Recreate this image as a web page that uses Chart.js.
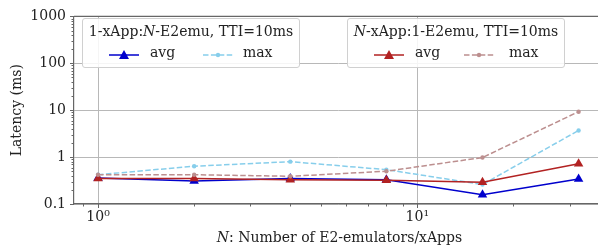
<!DOCTYPE html>
<html>
<head>
<meta charset="utf-8">
<script src="https://cdn.jsdelivr.net/npm/chart.js@4/dist/chart.umd.min.js"></script>
<style>
  html, body { margin: 0; padding: 0; background: #fff; overflow: hidden; width: 598px; height: 246px; }
  #wrap { position: absolute; left: 0; top: 0; width: 598px; height: 246px; overflow: hidden; }
  #chart { position: absolute; left: 0; top: 0; width: 608px; height: 246px; }
  .legend {
    position: absolute; top: 18px; width: 216px; height: 48px;
    background: rgba(255,255,255,0.85); border: 1px solid #d0d0d0; border-radius: 3px;
    font-family: "DejaVu Serif", serif; font-size: 14px; color: #222;
  }
  .legend .title { position: absolute; left: 0; right: 0; top: 4px; text-align: center; white-space: nowrap; }
  .legend .handle { position: absolute; top: 30px; }
  .legend .lbl { position: absolute; top: 25px; white-space: nowrap; }
  #xtitle {
    position: absolute; top: 229px; left: 74px; width: 531px; text-align: center;
    font-family: "DejaVu Serif", serif; font-size: 14px; color: #222; white-space: nowrap;
  }
</style>
</head>
<body>
<div id="wrap">
  <canvas id="chart" width="608" height="246"></canvas>
  <div class="legend" style="left:82px">
    <div class="title">1-xApp:<i>N</i>-E2emu, TTI=10ms</div>
    <svg class="handle" style="left:26px" width="30" height="12"><line x1="0" y1="6" x2="30" y2="6" stroke="#0000cd" stroke-width="1.5"/><polygon points="15,1 20,10 10,10" fill="#0000cd"/></svg>
    <span class="lbl" style="left:67px">avg</span>
    <svg class="handle" style="left:120px" width="30" height="12"><line x1="0" y1="6" x2="30" y2="6" stroke="#87ceeb" stroke-width="1.5" stroke-dasharray="5.5 2.4"/><circle cx="15" cy="6" r="2.2" fill="#87ceeb"/></svg>
    <span class="lbl" style="left:160px">max</span>
  </div>

  <div class="legend" style="left:347px">
    <div class="title"><i>N</i>-xApp:1-E2emu, TTI=10ms</div>
    <svg class="handle" style="left:26px" width="30" height="12"><line x1="0" y1="6" x2="30" y2="6" stroke="#b22222" stroke-width="1.5"/><polygon points="15,1 20,10 10,10" fill="#b22222"/></svg>
    <span class="lbl" style="left:67px">avg</span>
    <svg class="handle" style="left:116px" width="30" height="12"><line x1="0" y1="6" x2="30" y2="6" stroke="#bc8f8f" stroke-width="1.5" stroke-dasharray="5.5 2.4"/><circle cx="15" cy="6" r="2.2" fill="#bc8f8f"/></svg>
    <span class="lbl" style="left:161px">max</span>
  </div>

  <div id="xtitle"><i>N</i>: Number of E2-emulators/xApps</div>
</div>

<script>
// number of E2 emulators / xApps
const nValues = [1, 2, 4, 8, 16, 32];

// 1-xApp : N-E2emu (ms)
const oneXAppAvg = [0.36, 0.31, 0.35, 0.33, 0.157, 0.34];
const oneXAppMax = [0.42, 0.64, 0.80, 0.54, 0.26, 3.7];

// N-xApp : 1-E2emu (ms)
const nXAppAvg = [0.35, 0.35, 0.33, 0.32, 0.29, 0.72];
const nXAppMax = [0.42, 0.42, 0.39, 0.50, 0.98, 9.3];

// tick positions
const xTicks = [0.9, 1, 2, 3, 4, 5, 6, 7, 8, 9, 10, 20, 30];
const xTickLabels = { 1: "10\u2070", 10: "10\u00b9" };
const yTicks = [];
[0.1, 1, 10, 100].forEach(d => { for (let k = 1; k < 10; k++) yTicks.push(+(d * k).toPrecision(3)); });
yTicks.push(1000);
const yTickLabels = { 0.1: "0.1", 1: "1", 10: "10", 100: "100", 1000: "1000" };

const FONT = "'DejaVu Serif', serif";
const GRID = "#b8b8b8";
const SPINE = "#666";

function isMajor(v) {
  const l = Math.log10(v);
  return Math.abs(l - Math.round(l)) < 1e-6;
}

function points(arr) {
  return nValues.map((n, i) => ({ x: n, y: arr[i] }));
}

// matplotlib style axes: top spine + short minor ticks
const axesDeco = {
  id: "axesDeco",
  afterDraw(chart) {
    const { ctx, chartArea, scales } = chart;
    ctx.save();
    ctx.strokeStyle = SPINE;
    ctx.lineWidth = 1;
    scales.x.ticks.forEach(t => {
      const px = Math.round(scales.x.getPixelForValue(t.value)) + 0.5;
      const len = isMajor(t.value) ? 4 : 2.5;
      ctx.beginPath();
      ctx.moveTo(px, chartArea.bottom);
      ctx.lineTo(px, chartArea.bottom + len);
      ctx.stroke();
    });
    scales.y.ticks.forEach(t => {
      const py = Math.round(scales.y.getPixelForValue(t.value)) + 0.5;
      const len = isMajor(t.value) ? 4 : 2.5;
      ctx.beginPath();
      ctx.moveTo(chartArea.left - len, py);
      ctx.lineTo(chartArea.left, py);
      ctx.stroke();
    });
    ctx.lineWidth = 1.2;
    ctx.beginPath();
    ctx.moveTo(chartArea.left, chartArea.top);
    ctx.lineTo(chartArea.right, chartArea.top);
    ctx.stroke();
    ctx.restore();
  }
};

const lineDefaults = { borderWidth: 1.5, tension: 0, fill: false };

new Chart(document.getElementById("chart"), {
  type: "line",
  data: {
    datasets: [
      { ...lineDefaults, label: "max", data: points(nXAppMax), borderColor: "#bc8f8f", backgroundColor: "#bc8f8f",
        borderDash: [5.5, 2.4], pointStyle: "circle", pointRadius: 2.2, pointBorderWidth: 0 },
      { ...lineDefaults, label: "avg", data: points(nXAppAvg), borderColor: "#b22222", backgroundColor: "#b22222",
        pointStyle: "triangle", pointRadius: 5.5, pointBorderWidth: 0 },
      { ...lineDefaults, label: "max", data: points(oneXAppMax), borderColor: "#87ceeb", backgroundColor: "#87ceeb",
        borderDash: [5.5, 2.4], pointStyle: "circle", pointRadius: 2.2, pointBorderWidth: 0 },
      { ...lineDefaults, label: "avg", data: points(oneXAppAvg), borderColor: "#0000cd", backgroundColor: "#0000cd",
        pointStyle: "triangle", pointRadius: 5.5, pointBorderWidth: 0 }
    ]
  },
  options: {
    responsive: false,
    animation: false,
    devicePixelRatio: 1,
    layout: { padding: { top: 13, right: 3, left: 0, bottom: 0 } },
    plugins: { legend: { display: false }, tooltip: { enabled: false } },
    scales: {
      x: {
        type: "logarithmic",
        min: Math.pow(10, -0.0753),
        max: Math.pow(10, 1.58),
        afterBuildTicks: s => { s.ticks = xTicks.map(v => ({ value: v, major: isMajor(v) })); },
        afterFit: s => { s.height = 42; },
        ticks: {
          autoSkip: false, maxRotation: 0, padding: 5, color: "#222",
          font: { family: FONT, size: 14 },
          callback: v => xTickLabels[v] || ""
        },
        grid: {
          drawTicks: false,
          color: c => (c.tick && isMajor(c.tick.value)) ? GRID : "rgba(0,0,0,0)",
          lineWidth: 1
        },
        border: { display: true, color: SPINE, width: 1.2 }
      },
      y: {
        type: "logarithmic",
        min: 0.1,
        max: 1000,
        afterBuildTicks: s => { s.ticks = yTicks.map(v => ({ value: v, major: isMajor(v) })); },
        afterFit: s => { s.width = 74; },
        ticks: {
          autoSkip: false, padding: 8, color: "#222",
          font: { family: FONT, size: 14 },
          callback: v => yTickLabels[v] || ""
        },
        grid: {
          drawTicks: false,
          color: c => (c.tick && isMajor(c.tick.value)) ? GRID : "rgba(0,0,0,0)",
          lineWidth: 1
        },
        border: { display: true, color: SPINE, width: 1.2 },
        title: {
          display: true, text: "Latency (ms)", color: "#222",
          font: { family: FONT, size: 14 }, padding: { top: 9, bottom: 0 }
        }
      }
    }
  },
  plugins: [axesDeco]
});
</script>
</body>
</html>
